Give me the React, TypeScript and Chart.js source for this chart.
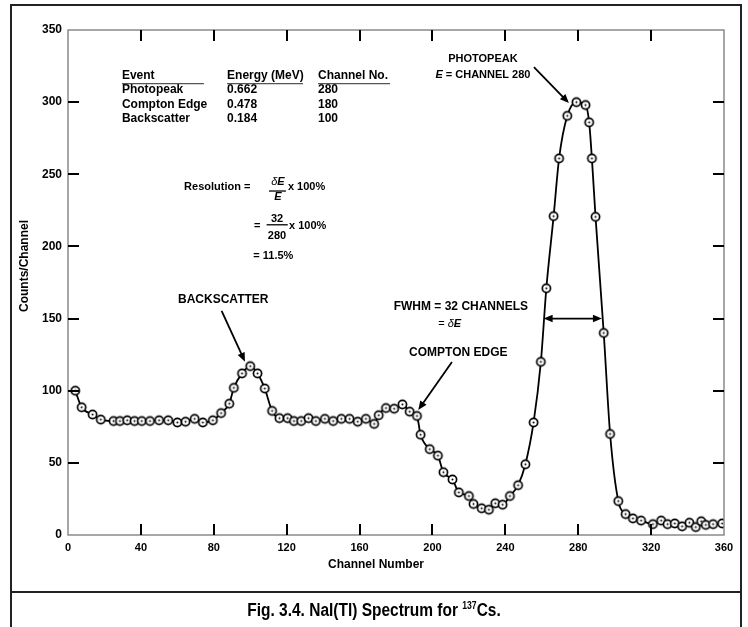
import React, { useEffect, useRef } from "react";
import { Chart, registerables } from "chart.js";

Chart.register(...registerables);

// ---- Data ----
const channels = [
  4, 7.5, 13.5, 18, 25, 28.5, 32.5, 36.5, 40.5, 45, 50, 55, 60, 64.5, 69.5, 74, 79.5, 84, 88.5, 91,
  95.5, 100, 104, 108, 112, 116, 120.5, 124, 128, 132, 136, 141, 145.5, 150, 154.5, 159, 163.5, 168,
  170.5, 174.5, 179, 183.5, 187.5, 191.5, 193.5, 198.5, 203, 206, 211, 214.5, 220, 222.5, 227, 231,
  234.5, 238.5, 242.5, 247, 251, 255.5, 259.5, 262.5, 266.5, 269.5, 274, 279, 284, 286, 287.5, 289.5,
  294, 297.5, 302, 306, 310, 314.5, 321, 325.5, 329, 333, 337, 341, 344.5, 347.5, 350, 354, 359,
];
const counts = [
  100, 88.5, 83.5, 80, 79, 79, 79.5, 79, 79, 79, 79.5, 79.5, 78, 78.5, 80.5, 78, 79.5, 84.5, 91, 102,
  112, 117, 112, 101.5, 86, 81, 81, 79, 79, 81, 79, 80.5, 79, 80.5, 80.5, 78.5, 80.5, 77,
  83, 88, 87.5, 90.5, 85.5, 82.5, 69.5, 59.5, 55, 43.5, 38.5, 29.5, 27, 21.5, 18.5, 17.5,
  22, 21, 27, 34.5, 49, 78, 120, 171, 221, 261, 290.5, 300, 298, 286, 261, 220.5,
  140, 70, 23.5, 14.5, 11.5, 10, 7.5, 10, 7.5, 8, 6, 8.5, 5.5, 9.5, 7, 7.5, 8,
];
const xTickValues = [0, 40, 80, 120, 160, 200, 240, 280, 320, 360];
const yTickValues = [0, 50, 100, 150, 200, 250, 300, 350];

const tableHeaders = ["Event", "Energy (MeV)", "Channel No."];
const tableEvents = ["Photopeak", "Compton Edge", "Backscatter"];
const tableEnergies = ["0.662", "0.478", "0.184"];
const tableChannels = ["280", "180", "100"];

const xTitle = "Channel Number";
const yTitle = "Counts/Channel";
const captionMain = "Fig. 3.4. NaI(Tl) Spectrum for ";
const captionSup = "137";
const captionEnd = "Cs.";

const fwhmFrom = 261;
const fwhmTo = 293;
const fwhmLevel = 150;

const SANS = "'Liberation Sans', Arial, Helvetica, sans-serif";

type Seg = { t: string; f: string; dy?: number };

function drawSegs(
  ctx: CanvasRenderingContext2D,
  segs: Seg[],
  x: number,
  y: number,
  align: "left" | "center" | "right",
  sx = 1
) {
  let total = 0;
  for (const s of segs) {
    ctx.font = s.f;
    total += ctx.measureText(s.t).width;
  }
  total *= sx;
  const start = align === "left" ? x : align === "center" ? x - total / 2 : x - total;
  ctx.save();
  ctx.translate(start, y);
  ctx.scale(sx, 1);
  ctx.textAlign = "left";
  ctx.textBaseline = "middle";
  let cx = 0;
  for (const s of segs) {
    ctx.font = s.f;
    ctx.fillText(s.t, cx, s.dy || 0);
    cx += ctx.measureText(s.t).width;
  }
  ctx.restore();
}

function arrowHead(ctx: CanvasRenderingContext2D, x1: number, y1: number, x2: number, y2: number, len = 9, half = 3.8) {
  const ang = Math.atan2(y2 - y1, x2 - x1);
  ctx.beginPath();
  ctx.moveTo(x2, y2);
  ctx.lineTo(x2 - len * Math.cos(ang) + half * Math.sin(ang), y2 - len * Math.sin(ang) - half * Math.cos(ang));
  ctx.lineTo(x2 - len * Math.cos(ang) - half * Math.sin(ang), y2 - len * Math.sin(ang) + half * Math.cos(ang));
  ctx.closePath();
  ctx.fill();
}

function arrow(ctx: CanvasRenderingContext2D, x1: number, y1: number, x2: number, y2: number, both = false) {
  const ang = Math.atan2(y2 - y1, x2 - x1);
  const len = 8;
  ctx.beginPath();
  ctx.moveTo(both ? x1 + len * Math.cos(ang) : x1, both ? y1 + len * Math.sin(ang) : y1);
  ctx.lineTo(x2 - len * Math.cos(ang), y2 - len * Math.sin(ang));
  ctx.stroke();
  arrowHead(ctx, x1, y1, x2, y2);
  if (both) arrowHead(ctx, x2, y2, x1, y1);
}

const annotationPlugin = {
  id: "annotations",
  afterDraw(chart: any) {
    const { ctx, chartArea: a } = chart;
    const xs = chart.scales.x;
    const ys = chart.scales.y;
    const X = (c: number) => xs.getPixelForValue(c);
    const Y = (v: number) => ys.getPixelForValue(v);
    ctx.save();

    // plot frame
    ctx.strokeStyle = "#8a8a8a";
    ctx.lineWidth = 1.5;
    ctx.strokeRect(a.left, a.top, a.right - a.left, a.bottom - a.top);

    // inward ticks
    ctx.strokeStyle = "#000";
    ctx.lineWidth = 2;
    ctx.beginPath();
    for (const t of xTickValues) {
      if (t <= xTickValues[0] || t >= xTickValues[xTickValues.length - 1]) continue;
      const px = Math.round(X(t));
      ctx.moveTo(px, a.bottom);
      ctx.lineTo(px, a.bottom - 11);
      ctx.moveTo(px, a.top);
      ctx.lineTo(px, a.top + 11);
    }
    for (const t of yTickValues) {
      if (t <= yTickValues[0] || t >= yTickValues[yTickValues.length - 1]) continue;
      const py = Math.round(Y(t));
      ctx.moveTo(a.left, py);
      ctx.lineTo(a.left + 11, py);
      ctx.moveTo(a.right, py);
      ctx.lineTo(a.right - 11, py);
    }
    ctx.stroke();

    // outer frame and caption box
    ctx.strokeStyle = "#222";
    ctx.lineWidth = 2;
    ctx.strokeRect(11, 5, 730, 587);
    ctx.beginPath();
    ctx.moveTo(11, 592);
    ctx.lineTo(11, 627);
    ctx.moveTo(741, 592);
    ctx.lineTo(741, 627);
    ctx.stroke();

    ctx.fillStyle = "#000";
    const B12 = `bold 12px ${SANS}`;
    const B11 = `bold 11px ${SANS}`;
    const BI11 = `italic bold 11px ${SANS}`;
    const I11 = `italic 11px ${SANS}`;

    // axis titles
    drawSegs(ctx, [{ t: xTitle, f: B12 }], 376, 565, "center");
    ctx.save();
    ctx.translate(25, 266);
    ctx.rotate(-Math.PI / 2);
    drawSegs(ctx, [{ t: yTitle, f: B12 }], 0, 0, "center");
    ctx.restore();

    // caption (condensed)
    drawSegs(
      ctx,
      [
        { t: captionMain, f: `bold 18px ${SANS}` },
        { t: captionSup, f: `bold 10px ${SANS}`, dy: -5 },
        { t: captionEnd, f: `bold 18px ${SANS}` },
      ],
      374,
      611,
      "center",
      0.86
    );

    // table
    const cols = [29.6, 87.3, 137.2];
    const rows = [318.3, 308.4, 298.5, 288.8];
    tableHeaders.forEach((h, i) => drawSegs(ctx, [{ t: h, f: B12 }], X(cols[i]), Y(rows[0]), "left"));
    tableEvents.forEach((e, r) => {
      drawSegs(ctx, [{ t: e, f: B12 }], X(cols[0]), Y(rows[r + 1]), "left");
      drawSegs(ctx, [{ t: tableEnergies[r], f: B12 }], X(cols[1]), Y(rows[r + 1]), "left");
      drawSegs(ctx, [{ t: tableChannels[r], f: B12 }], X(cols[2]), Y(rows[r + 1]), "left");
    });
    ctx.strokeStyle = "#555";
    ctx.lineWidth = 1.2;
    ctx.beginPath();
    const ul = Y(312.9);
    ctx.moveTo(X(cols[0]), ul);
    ctx.lineTo(X(74.6), ul);
    ctx.moveTo(X(cols[1]), ul);
    ctx.lineTo(X(129.0), ul);
    ctx.moveTo(X(cols[2]), ul);
    ctx.lineTo(X(176.7), ul);
    ctx.stroke();

    // resolution formula
    ctx.strokeStyle = "#000";
    ctx.lineWidth = 1.3;
    drawSegs(ctx, [{ t: "Resolution =", f: B11 }], X(63.7), Y(241.0), "left");
    drawSegs(ctx, [{ t: "δ", f: I11 }, { t: "E", f: BI11 }], X(115.2), Y(244.9), "center");
    ctx.beginPath();
    ctx.moveTo(X(110.3), Y(238.4));
    ctx.lineTo(X(119.6), Y(238.4));
    ctx.stroke();
    drawSegs(ctx, [{ t: "E", f: BI11 }], X(115.2), Y(234.1), "center");
    drawSegs(ctx, [{ t: "x 100%", f: B11 }], X(120.7), Y(241.0), "left");

    drawSegs(ctx, [{ t: "=", f: B11 }], X(102.1), Y(214.4), "left");
    drawSegs(ctx, [{ t: "32", f: B11 }], X(114.7), Y(219.2), "center");
    ctx.beginPath();
    ctx.moveTo(X(109.0), Y(215.0));
    ctx.lineTo(X(120.6), Y(215.0));
    ctx.stroke();
    drawSegs(ctx, [{ t: "280", f: B11 }], X(114.7), Y(207.4), "center");
    drawSegs(ctx, [{ t: "x 100%", f: B11 }], X(121.3), Y(214.4), "left");
    drawSegs(ctx, [{ t: "= 11.5%", f: B11 }], X(101.7), Y(193.4), "left");

    // photopeak label
    drawSegs(ctx, [{ t: "PHOTOPEAK", f: B11 }], X(227.7), Y(329.9), "center");
    drawSegs(ctx, [{ t: "E", f: BI11 }, { t: " = CHANNEL 280", f: B11 }], X(227.7), Y(318.8), "center");
    ctx.lineWidth = 1.8;
    arrow(ctx, X(255.7), Y(324.3), X(274.9), Y(299.4));

    // backscatter
    drawSegs(ctx, [{ t: "BACKSCATTER", f: B12 }], X(85.2), Y(162.9), "center");
    arrow(ctx, X(84.3), Y(155.4), X(97.1), Y(120.1));

    // FWHM
    drawSegs(ctx, [{ t: "FWHM = 32 CHANNELS", f: B12 }], X(215.6), Y(158.2), "center");
    drawSegs(ctx, [{ t: "= ", f: `11px ${SANS}` }, { t: "δ", f: I11 }, { t: "E", f: BI11 }], X(203.2), Y(146.0), "left");
    arrow(ctx, X(fwhmFrom), Y(fwhmLevel), X(fwhmTo), Y(fwhmLevel), true);

    // Compton edge
    drawSegs(ctx, [{ t: "COMPTON EDGE", f: B12 }], X(214.2), Y(126.3), "center");
    arrow(ctx, X(210.7), Y(119.9), X(192.2), Y(86.6));

    ctx.restore();
  },
};

export default function App() {
  const ref = useRef<HTMLCanvasElement | null>(null);

  useEffect(() => {
    if (!ref.current) return;
    const pt = document.createElement("canvas");
    pt.width = 13;
    pt.height = 13;
    const c = pt.getContext("2d")!;
    c.beginPath();
    c.arc(6.5, 6.5, 4.1, 0, Math.PI * 2);
    c.fillStyle = "#fff";
    c.fill();
    c.lineWidth = 1.7;
    c.strokeStyle = "#000";
    c.stroke();
    c.beginPath();
    c.arc(6.5, 6.5, 1.0, 0, Math.PI * 2);
    c.fillStyle = "#000";
    c.fill();

    const data = channels.map((ch, i) => ({ x: ch, y: counts[i] }));

    const chart = new Chart(ref.current, {
      type: "line",
      data: {
        datasets: [
          {
            label: "Counts",
            data,
            borderColor: "#000",
            borderWidth: 1.8,
            backgroundColor: "#fff",
            fill: false,
            cubicInterpolationMode: "monotone",
            pointStyle: pt as any,
            pointRadius: 4.5,
            pointHoverRadius: 4.5,
          },
        ],
      },
      options: {
        responsive: false,
        animation: false,
        devicePixelRatio: 1,
        layout: { padding: { left: 10, right: 24, top: 30, bottom: 62 } },
        plugins: { legend: { display: false }, tooltip: { enabled: false } },
        events: [],
        scales: {
          x: {
            type: "linear",
            min: 0,
            max: 360,
            afterFit: (s: any) => {
              s.height = 30;
            },
            grid: { display: false, drawTicks: false },
            border: { display: false },
            ticks: {
              stepSize: 40,
              padding: 6,
              color: "#000",
              font: { family: SANS, size: 11, weight: "bold" },
              maxRotation: 0,
            },
          },
          y: {
            type: "linear",
            min: 0,
            max: 350,
            afterFit: (s: any) => {
              s.width = 58;
            },
            grid: { display: false, drawTicks: false },
            border: { display: false },
            ticks: {
              stepSize: 50,
              padding: 6,
              color: "#000",
              font: { family: SANS, size: 12, weight: "bold" },
            },
          },
        },
      } as any,
      plugins: [annotationPlugin],
    });
    return () => chart.destroy();
  }, []);

  return (
    <div style={{ position: "absolute", left: 0, top: 0, width: 748, height: 627, background: "#fff" }}>
      <canvas ref={ref} width={748} height={627} style={{ display: "block" }} />
    </div>
  );
}
